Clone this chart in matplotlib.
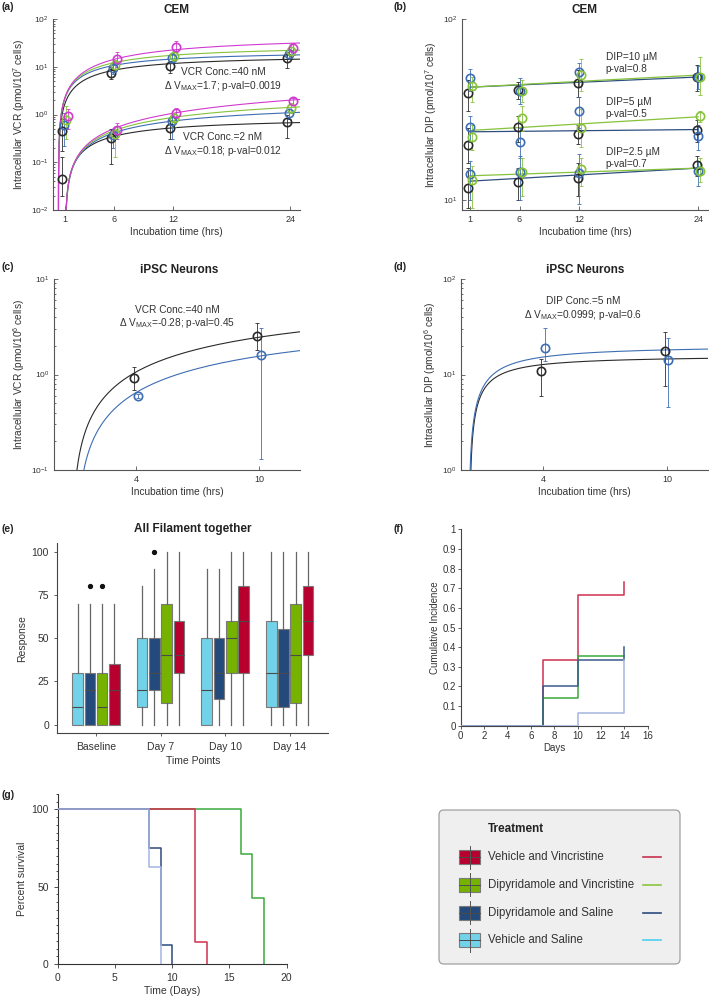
import numpy as np
import matplotlib
matplotlib.use("Agg")
import matplotlib.pyplot as plt
from matplotlib.patches import FancyBboxPatch, Rectangle
from matplotlib.ticker import MultipleLocator, NullLocator, LogLocator

plt.rcParams["font.family"] = ["Liberation Sans", "DejaVu Sans"]
plt.rcParams["mathtext.fontset"] = "custom"
plt.rcParams["mathtext.rm"] = "Liberation Sans"
plt.rcParams["mathtext.it"] = "Liberation Sans:italic"
plt.rcParams["mathtext.bf"] = "Liberation Sans:bold"
plt.rcParams["mathtext.default"] = "regular"

nan = np.nan
W, H = 709, 998

# ---- (a) CEM, VCR uptake (series: black, blue, green, magenta)
T_A = [1, 6, 12, 24]
A_XOFF = [-0.3, -0.1, 0.1, 0.3]
A40_MEAN = [[0.45, 7.5, 10.2, 15.0], [0.6, 9.5, 15.5, 18.5], [0.75, 11.0, 17.0, 21.0], [0.95, 14.5, 26.0, 25.0]]
A40_LO = [[0.17, 5.5, 7.5, 9.5], [0.22, 7.0, 12.0, 15.0], [0.3, 8.0, 13.0, 15.0], [0.5, 10.0, 20.0, 18.0]]
A40_HI = [[0.8, 10.0, 13.0, 20.0], [1.1, 12.0, 19.0, 24.0], [1.5, 14.0, 21.0, 30.0], [1.3, 20.0, 35.0, 32.0]]
A2_MEAN = [[0.045, 0.32, 0.52, 0.68], [nan, 0.38, 0.72, 1.1], [nan, 0.40, 0.85, 1.4], [nan, 0.48, 1.1, 1.9]]
A2_LO = [[0.02, 0.09, 0.30, 0.32], [nan, 0.20, 0.30, 0.80], [nan, 0.13, 0.55, 1.1], [nan, 0.30, 0.85, 1.6]]
A2_HI = [[0.13, 0.50, 0.75, 1.0], [nan, 0.50, 0.95, 1.3], [nan, 0.55, 1.05, 1.7], [nan, 0.65, 1.35, 2.2]]
# fitted uptake curves: (Vmax, K, lag)
A40_FIT = [(18.25, 6.55, 0.3), (22.1, 6.08, 0.3), (29.5, 8.1, 0.3), (49.2, 13.9, 0.3)]
A2_FIT = [(0.90, 7.85, 1.0), (1.99, 19.0, 1.0), (3.31, 31.0, 1.0), (10.6, 99.0, 1.0)]
A_COLORS = ["#2a2a2a", "#3d6db3", "#86c23a", "#d03ad0"]

# ---- (b) CEM, DIP uptake (series: black, blue, green; groups 10, 5, 2.5 uM)
T_B = [1, 6, 12, 24]
B_XOFF = [-0.15, 0.0, 0.2]
B10_MEAN = [[38.8, 40.6, 44.2, 47.6], [47.4, 40.0, 51.2, 47.6], [42.7, 39.8, 49.0, 48.0]]
B10_LO = [[31, 36, 37, 40], [40, 34, 42, 41], [35, 35, 40, 38]]
B10_HI = [[46, 45, 52, 56], [53, 47, 57, 55], [48, 46, 60, 62]]
B5_MEAN = [[20.0, 25.4, 23.2, 24.4], [25.2, 20.9, 31.0, 22.6], [22.4, 28.5, 25.0, 29.1]]
B5_LO = [[16, 21, 20.5, 21], [21, 17, 25, 19], [19, 24, 19.5, 27]]
B5_HI = [[25, 29, 26, 27.5], [29, 25, 37, 26], [26, 33, 32, 31]]
B25_MEAN = [[11.6, 12.5, 13.3, 15.6], [14.0, 14.3, 14.1, 14.5], [12.9, 14.2, 14.8, 14.5]]
B25_LO = [[9, 10, 10.5, 13.5], [10, 10, 9.5, 12], [9, 10.5, 12, 12.5]]
B25_HI = [[15, 15, 16, 17.5], [16.5, 17.5, 18, 16.5], [15.5, 17, 17, 17]]
B_LINE_T = [1, 24]
B_DARK = [[42.0, 47.8], [23.8, 24.5], [12.7, 15.0]]
B_GREEN = [[42.0, 49.0], [24.2, 28.8], [13.6, 15.0]]
B_COLORS = ["#2a2a2a", "#3d6db3", "#86c23a"]
B_TEXT = [("DIP=10 \u00b5M", "p-val=0.8"), ("DIP=5 \u00b5M", "p-val=0.5"), ("DIP=2.5 \u00b5M", "p-val=0.7")]

# ---- (c) / (d) iPSC neurons (series: black, blue)
T_CD = [4, 10]
CD_XOFF = [-0.1, 0.08]
C_MEAN = [[0.93, 2.5], [0.6, 1.6]]
C_LO = [[0.68, 1.8], [0.57, 0.13]]
C_HI = [[1.2, 3.5], [0.63, 3.1]]
C_FIT = [(7.83, 20.0, 0.86), (5.03, 20.0, 1.05)]
D_MEAN = [[10.8, 17.8], [18.8, 14.3]]
D_LO = [[6.0, 7.5], [14.0, 4.6]]
D_HI = [[14.5, 28.0], [31.0, 24.0]]
D_FIT = [(15.9, 0.89, 0.42), (20.4, 1.22, 0.38)]
CD_COLORS = ["#2a2a2a", "#3d6db3"]

# ---- (e) boxplots; rows = time point, columns = treatment
E_GROUPS = ["Baseline", "Day 7", "Day 10", "Day 14"]
E_TREAT = ["Vehicle and Saline", "Dipyridamole and Saline",
           "Dipyridamole and Vincristine", "Vehicle and Vincristine"]
E_COLORS = ["#72d2e9", "#244a7c", "#75b300", "#b8002f"]
E_Q1 = [[0, 0, 0, 0], [10, 20, 12.5, 30], [0, 15, 30, 30], [10, 10, 12.5, 40]]
E_MED = [[10, 20, 10, 20], [20, 30, 40, 40], [20, 30, 50, 60], [30, 30, 40, 60]]
E_Q3 = [[30, 30, 30, 35], [50, 50, 70, 60], [50, 50, 60, 80], [60, 55, 70, 80]]
E_WLO = [[0, 0, 0, 0], [0, 0, 0, 0], [0, 0, 0, 0], [0, 0, 0, 0]]
E_WHI = [[70, 70, 70, 70], [80, 90, 100, 100], [90, 90, 100, 100], [100, 100, 100, 100]]
E_OUT = [[[], [80], [80], []], [[], [100], [], []], [[], [], [], []], [[], [], [], []]]

# ---- (f) cumulative incidence (red, green, navy, light)
F_DAYS = [0, 7, 10, 14]
F_INC = [[0, 0.333, 0.667, 0.733], [0, 0.143, 0.357, 0.357],
         [0, 0.2, 0.333, 0.4], [0, 0, 0.067, 0.333]]
F_COLORS = ["#cf2f4f", "#3aa93a", "#3a5a8c", "#a5b5e0"]

# ---- (g) survival
G_T_GREEN, G_S_GREEN = [0, 16, 17, 18], [100, 71.4, 42.9, 0]
G_T_RED, G_S_RED = [0, 12, 13], [100, 14.3, 0]
G_T_NAVY, G_S_NAVY = [0, 8, 9, 10], [100, 75, 12.5, 0]
G_T_LIGHT, G_S_LIGHT = [0, 8, 9], [100, 62.5, 0]

# ---- legend
LEG_LABELS = ["Vehicle and Vincristine", "Dipyridamole and Vincristine",
              "Dipyridamole and Saline", "Vehicle and Saline"]
LEG_BOX = ["#b8002f", "#75b300", "#244a7c", "#72d2e9"]
LEG_LINE = ["#c8324f", "#8cc63f", "#2c4b80", "#4dd0f0"]

GRAYT = "#333333"
fig = plt.figure(figsize=(W / 100, H / 100), dpi=100)


def add_ax(left, top, right, bottom):
    return fig.add_axes([left / W, 1 - bottom / H, (right - left) / W, (bottom - top) / H])


def matlab(ax):
    for s in ["top", "right"]:
        ax.spines[s].set_visible(False)
    for s in ["left", "bottom"]:
        ax.spines[s].set_color("#555555")
        ax.spines[s].set_linewidth(0.8)
    ax.tick_params(which="both", direction="in", colors="#555555", labelcolor=GRAYT,
                   labelsize=6.5, width=0.6)
    ax.tick_params(which="major", length=3)
    ax.tick_params(which="minor", length=1.6)
    ax.tick_params(axis="y", labelsize=6)
    ax.xaxis.set_minor_locator(NullLocator())


def mm_curve(ax, vmax, k, t0, tmax, color):
    t = t0 + np.geomspace(1e-4, tmax - t0, 400)
    ax.plot(t, vmax * (t - t0) / (k + t - t0), color=color, lw=0.8, zorder=2)


def points(ax, t, mean, lo, hi, xoff, color):
    x = np.array(t, float) + xoff
    m = np.array(mean, float)
    err = [m - np.array(lo, float), np.array(hi, float) - m]
    ax.errorbar(x, m, yerr=err, fmt="none", ecolor=color, elinewidth=0.7, capsize=1.5,
                capthick=0.7, alpha=0.85, zorder=3)
    ax.plot(x, m, "o", ms=6, mfc="none", mec=color, mew=1.2, zorder=4)


# ---------- (a)
ax = add_ax(53.5, 19, 300, 210)
ax.set_yscale("log")
for i in range(4):
    mm_curve(ax, *A40_FIT[i], 25, A_COLORS[i])
    mm_curve(ax, *A2_FIT[i], 25, A_COLORS[i])
for i in range(4):
    points(ax, T_A, A40_MEAN[i], A40_LO[i], A40_HI[i], A_XOFF[i], A_COLORS[i])
    points(ax, T_A, A2_MEAN[i], A2_LO[i], A2_HI[i], A_XOFF[i], A_COLORS[i])
ax.set_xlim(-0.2, 25)
ax.set_ylim(1e-2, 1e2)
ax.set_xticks(T_A)
matlab(ax)
ax.set_xlabel("Incubation time (hrs)", fontsize=7.3, color=GRAYT, labelpad=2)
ax.set_ylabel("Intracellular VCR (pmol/10$^7$ cells)", fontsize=7.3, color=GRAYT, labelpad=3)

# ---------- (b)
ax = add_ax(462, 19, 708, 210)
ax.set_yscale("log")
for g in range(3):
    ax.plot(B_LINE_T, B_DARK[g], color="#2f4f82", lw=0.9, zorder=2)
    ax.plot(B_LINE_T, B_GREEN[g], color=B_COLORS[2], lw=0.9, zorder=2)
for mean, lo, hi in [(B10_MEAN, B10_LO, B10_HI), (B5_MEAN, B5_LO, B5_HI), (B25_MEAN, B25_LO, B25_HI)]:
    for i in range(3):
        points(ax, T_B, mean[i], lo[i], hi[i], B_XOFF[i], B_COLORS[i])
ax.set_xlim(0.2, 25)
ax.set_ylim(8.8, 100)
ax.set_xticks(T_B)
ax.yaxis.set_major_locator(LogLocator(base=10))
ax.yaxis.set_minor_locator(NullLocator())
matlab(ax)
ax.set_xlabel("Incubation time (hrs)", fontsize=7.3, color=GRAYT, labelpad=2)
ax.set_ylabel("Intracellular DIP (pmol/10$^7$ cells)", fontsize=7.3, color=GRAYT, labelpad=3)

# ---------- (c)
ax = add_ax(54, 279, 300, 470)
ax.set_yscale("log")
for i in range(2):
    mm_curve(ax, *C_FIT[i], 12, CD_COLORS[i])
    points(ax, T_CD, C_MEAN[i], C_LO[i], C_HI[i], CD_XOFF[i], CD_COLORS[i])
ax.set_xlim(0, 12)
ax.set_ylim(0.1, 10)
ax.set_xticks(T_CD)
matlab(ax)
ax.set_xlabel("Incubation time (hrs)", fontsize=7.3, color=GRAYT, labelpad=2)
ax.set_ylabel("Intracellular VCR (pmol/10$^6$ cells)", fontsize=7.3, color=GRAYT, labelpad=3)

# ---------- (d)
ax = add_ax(461, 279, 708, 470)
ax.set_yscale("log")
for i in range(2):
    mm_curve(ax, *D_FIT[i], 12, CD_COLORS[i])
    points(ax, T_CD, D_MEAN[i], D_LO[i], D_HI[i], CD_XOFF[i], CD_COLORS[i])
ax.set_xlim(0, 12)
ax.set_ylim(1, 100)
ax.set_xticks(T_CD)
matlab(ax)
ax.set_xlabel("Incubation time (hrs)", fontsize=7.3, color=GRAYT, labelpad=2)
ax.set_ylabel("Intracellular DIP (pmol/10$^6$ cells)", fontsize=7.3, color=GRAYT, labelpad=3)

# ---------- (e)
ax = add_ax(57.3, 543, 328.3, 733.3)
dodge = 0.19
for g in range(4):
    for i in range(4):
        st = [dict(med=E_MED[g][i], q1=E_Q1[g][i], q3=E_Q3[g][i], whislo=E_WLO[g][i],
                   whishi=E_WHI[g][i], fliers=E_OUT[g][i])]
        ax.bxp(st, positions=[g + 1 + (i - 1.5) * dodge], widths=0.165, patch_artist=True,
               showcaps=False, manage_ticks=False,
               boxprops=dict(facecolor=E_COLORS[i], edgecolor="#7a7a7a", linewidth=0.8),
               medianprops=dict(color="#4a4a4a", linewidth=0.8),
               whiskerprops=dict(color="#666666", linewidth=0.9),
               flierprops=dict(marker="o", markerfacecolor="#111111", markeredgecolor="#111111",
                               markersize=2.8))
ax.set_xlim(0.4, 4.6)
ax.set_ylim(-5, 105)
ax.set_xticks([1, 2, 3, 4])
ax.set_xticklabels(E_GROUPS)
ax.set_yticks([0, 25, 50, 75, 100])
for s in ["top", "right"]:
    ax.spines[s].set_visible(False)
for s in ["left", "bottom"]:
    ax.spines[s].set_color("#444444")
    ax.spines[s].set_linewidth(0.8)
ax.tick_params(colors="#444444", labelcolor=GRAYT, labelsize=7.5, length=2.5, width=0.6)
ax.set_xlabel("Time Points", fontsize=7.5, color=GRAYT, labelpad=3)
ax.set_ylabel("Response", fontsize=7.5, color=GRAYT, labelpad=3)

# ---------- (f)
ax = add_ax(460.7, 529.3, 647.7, 725.7)
for i in range(4):
    ax.step(F_DAYS, F_INC[i], where="post", color=F_COLORS[i], lw=1.1, zorder=2 + i)
ax.set_xlim(0, 16)
ax.set_ylim(0, 1)
ax.set_xticks(range(0, 17, 2))
ax.set_yticks(np.arange(0, 11) / 10)
ax.set_yticklabels(["0"] + [f"{v / 10:.1f}" for v in range(1, 10)] + ["1"])
for s in ["top", "right"]:
    ax.spines[s].set_visible(False)
for s in ["left", "bottom"]:
    ax.spines[s].set_color("#444444")
    ax.spines[s].set_linewidth(0.8)
ax.tick_params(colors="#444444", labelcolor=GRAYT, labelsize=7, length=2, width=0.6, pad=1.5)
ax.set_xlabel("Days", fontsize=7, color=GRAYT, labelpad=2)
ax.set_ylabel("Cumulative Incidence", fontsize=7, color=GRAYT, labelpad=2)

# ---------- (g)
ax = add_ax(57.7, 794, 286.7, 964)
for t, s, c, z in [(G_T_GREEN, G_S_GREEN, "#3aa93a", 2), (G_T_RED, G_S_RED, "#d12f4e", 3),
                   (G_T_NAVY, G_S_NAVY, "#2e4a7c", 4), (G_T_LIGHT, G_S_LIGHT, "#a5b5e0", 5)]:
    ax.step(t, s, where="post", color=c, lw=1.1, zorder=z)
ax.set_xlim(0, 20)
ax.set_ylim(0, 110)
ax.set_xticks([0, 5, 10, 15, 20])
ax.set_yticks([0, 50, 100])
ax.yaxis.set_minor_locator(MultipleLocator(5))
for s in ["top", "right"]:
    ax.spines[s].set_visible(False)
for s in ["left", "bottom"]:
    ax.spines[s].set_color("#333333")
    ax.spines[s].set_linewidth(0.8)
ax.tick_params(which="both", colors="#333333", labelcolor=GRAYT, labelsize=7.5, width=0.6)
ax.tick_params(which="major", length=3)
ax.tick_params(which="minor", length=1.5)
ax.set_xlabel("Time (Days)", fontsize=7.5, color=GRAYT, labelpad=2)
ax.set_ylabel("Percent survival", fontsize=7.5, color=GRAYT, labelpad=3)

# ---------- overlay: panel labels, titles, annotations, legend
ov = fig.add_axes([0, 0, 1, 1])
ov.set_xlim(0, W)
ov.set_ylim(H, 0)
ov.axis("off")

for lab, x, y in [("(a)", 1, 7), ("(b)", 394, 7), ("(c)", 1, 267), ("(d)", 394, 267),
                  ("(e)", 1, 529), ("(f)", 394, 529), ("(g)", 1, 795)]:
    ov.text(x, y, lab, fontsize=7.5, fontweight="bold", va="center", ha="left", color="#222222")

for ttl, x, y in [("CEM", 177, 10), ("CEM", 585, 10), ("iPSC Neurons", 179, 270),
                  ("iPSC Neurons", 585, 270), ("All Filament together", 193, 529)]:
    ov.text(x, y, ttl, fontsize=8.5, fontweight="bold", va="center", ha="center", color="#222222")

ann = dict(fontsize=7.3, va="center", ha="center", color=GRAYT)
ov.text(223, 72, "VCR Conc.=40 nM", **ann)
ov.text(223, 86, "\u0394 V$_{MAX}$=1.7; p-val=0.0019", **ann)
ov.text(223, 137, "VCR Conc.=2 nM", **ann)
ov.text(223, 150.5, "\u0394 V$_{MAX}$=0.18; p-val=0.012", **ann)
ov.text(177, 310, "VCR Conc.=40 nM", **ann)
ov.text(177, 323.5, "\u0394 V$_{MAX}$=-0.28; p-val=0.45", **ann)
ov.text(583, 301.5, "DIP Conc.=5 nM", **ann)
ov.text(583, 315, "\u0394 V$_{MAX}$=0.0999; p-val=0.6", **ann)
for (l1, l2), y in zip(B_TEXT, [57, 101.5, 152]):
    ov.text(605.5, y, l1, fontsize=7.3, va="center", ha="left", color=GRAYT)
    ov.text(605.5, y + 12, l2, fontsize=7.3, va="center", ha="left", color=GRAYT)

ov.add_patch(FancyBboxPatch((439, 810), 241, 154, boxstyle="round,pad=0,rounding_size=5",
                            fc="#efefef", ec="#a0a0a0", lw=0.9))
ov.text(488.3, 829.5, "Treatment", fontsize=8.5, fontweight="bold", va="center", ha="left",
        color="#222222")
for i, lab in enumerate(LEG_LABELS):
    yc = 857 + i * 27.8
    ov.plot([469.5, 469.5], [yc - 11.5, yc + 11.5], color="#555555", lw=0.7)
    ov.add_patch(Rectangle((459, yc - 7), 21, 14, fc=LEG_BOX[i], ec="#7a7a7a", lw=0.8))
    ov.plot([459, 480], [yc, yc], color="#4a4a4a", lw=0.7)
    ov.text(488.3, yc, lab, fontsize=8.3, va="center", ha="left", color=GRAYT)
    ov.plot([643, 661], [yc, yc], color=LEG_LINE[i], lw=1.2)

fig.savefig("out.png", dpi=100, facecolor="white")
